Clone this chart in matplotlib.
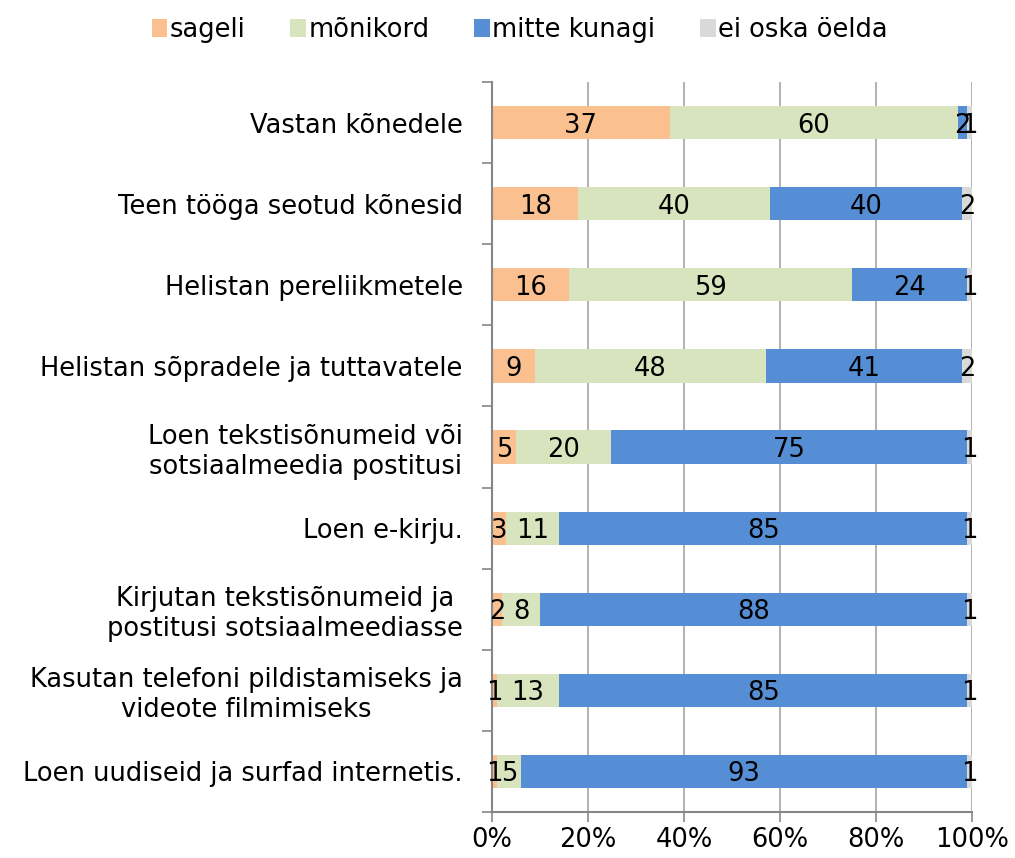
import numpy as np
import matplotlib.pyplot as plt
from matplotlib.patches import Patch

# survey answers, top row first
categories = [
    "Vastan kõnedele",
    "Teen tööga seotud kõnesid",
    "Helistan pereliikmetele",
    "Helistan sõpradele ja tuttavatele",
    "Loen tekstisõnumeid või\nsotsiaalmeedia postitusi",
    "Loen e-kirju.",
    "Kirjutan tekstisõnumeid ja\npostitusi sotsiaalmeediasse",
    "Kasutan telefoni pildistamiseks ja\nvideote filmimiseks",
    "Loen uudiseid ja surfad internetis.",
]
sageli = [37, 18, 16, 9, 5, 3, 2, 1, 1]
monikord = [60, 40, 59, 48, 20, 11, 8, 13, 5]
mitte_kunagi = [2, 40, 24, 41, 75, 85, 88, 85, 93]
ei_oska = [1, 2, 1, 2, 1, 1, 1, 1, 1]

series_names = ["sageli", "mõnikord", "mitte kunagi", "ei oska öelda"]
colors = ["#FAC090", "#D7E4BD", "#558ED5", "#D9D9D9"]

plt.rcParams['font.family'] = ['DejaVu Sans']
FS = 18.5

data = np.array([sageli, monikord, mitte_kunagi, ei_oska], dtype=float)
totals = data.sum(axis=0)
shares = data / totals * 100

fig = plt.figure(figsize=(10.15, 8.58), dpi=100)
ax = fig.add_axes([0.4847, 0.0536, 0.4729, 0.8508])

y = np.arange(len(categories))
left = np.zeros(len(categories))
for i in range(4):
    ax.barh(y, shares[i], left=left, height=0.41, color=colors[i], zorder=2)
    for j in range(len(categories)):
        ax.text(left[j] + shares[i][j] / 2, y[j], str(int(data[i][j])),
                ha='center', va='center_baseline', fontsize=FS, color='black', zorder=3)
    left += shares[i]

ax.set_xlim(0, 100)
ax.set_ylim(len(categories) - 0.5, -0.5)
ax.set_xticks(np.arange(0, 101, 20))
ax.set_xticklabels([f"{v}%" for v in range(0, 101, 20)], fontsize=FS)
ax.xaxis.grid(True, color='#a6a6a6', linewidth=1.2, zorder=0)

ax.set_yticks(y)
ax.set_yticklabels(categories, fontsize=FS, multialignment='center')
ax.tick_params(axis='y', length=0, pad=21)
ax.set_yticks(np.arange(-0.5, len(categories), 1), minor=True)
ax.tick_params(axis='y', which='minor', length=7, color='#868686', width=1.2)
ax.tick_params(axis='x', length=7, color='#868686', width=1.2, pad=4)

for s in ['top', 'right']:
    ax.spines[s].set_visible(False)
for s in ['left', 'bottom']:
    ax.spines[s].set_color('#868686')
    ax.spines[s].set_linewidth(1.5)

handles = [Patch(facecolor=c, edgecolor='none') for c in colors]
fig.legend(handles, series_names, loc='center', bbox_to_anchor=(0.512, 0.965),
           ncol=4, frameon=False, fontsize=FS, handlelength=0.6, handleheight=0.75,
           handletextpad=0.1, columnspacing=1.75)

fig.savefig("out.png", dpi=100)
